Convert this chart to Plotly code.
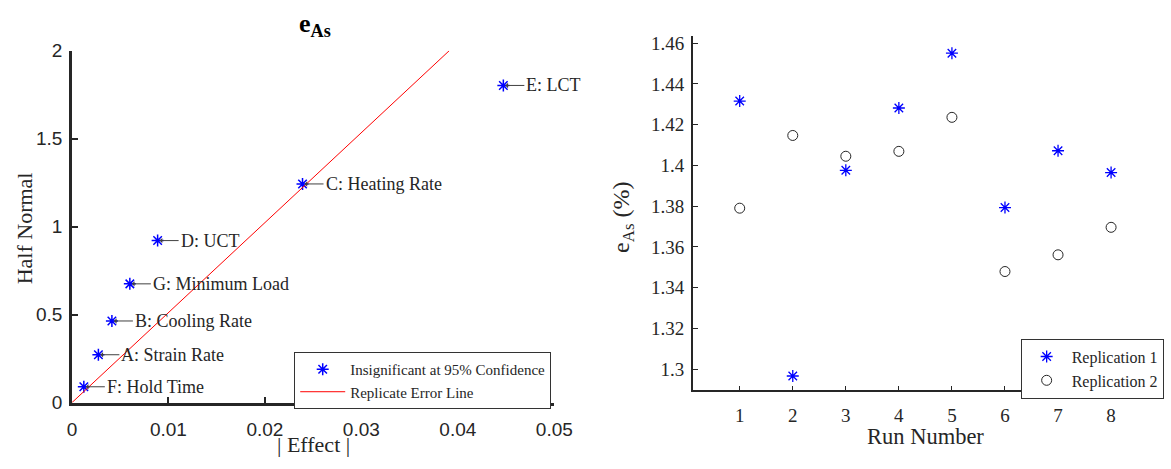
import plotly.graph_objects as go

# Half-normal plot of effects on e_As
factor_labels = ["F: Hold Time", "A: Strain Rate", "B: Cooling Rate", "G: Minimum Load",
                 "D: UCT", "C: Heating Rate", "E: LCT"]
abs_effect = [0.00123, 0.00274, 0.00414, 0.00600, 0.00888, 0.02390, 0.04472]
half_normal = [0.090, 0.272, 0.464, 0.675, 0.921, 1.243, 1.803]

# replicate error line end points
error_line_x = [0.0, 0.0391]
error_line_y = [0.0, 2.0]

# e_As per run for the two replications
run_number = [1, 2, 3, 4, 5, 6, 7, 8]
replication_1 = [1.4316, 1.2966, 1.3976, 1.4282, 1.4551, 1.3793, 1.4072, 1.3965]
replication_2 = [1.3790, 1.4147, 1.4045, 1.4069, 1.4236, 1.3479, 1.3561, 1.3696]

left_xticks = [0, 0.01, 0.02, 0.03, 0.04, 0.05]
left_xticktext = ["0", "0.01", "0.02", "0.03", "0.04", "0.05"]
left_yticks = [0, 0.5, 1, 1.5, 2]
left_yticktext = ["0", "0.5", "1", "1.5", "2"]
right_yticks = [1.30, 1.32, 1.34, 1.36, 1.38, 1.40, 1.42, 1.44, 1.46]
right_yticktext = ["1.3", "1.32", "1.34", "1.36", "1.38", "1.4", "1.42", "1.44", "1.46"]

W, H = 1171, 469
SERIF = "Liberation Serif"
SANS = "Liberation Sans"
AX = "#262626"


def px(x):
    return x / W


def py(y):
    return (H - y) / H


fig = go.Figure()

fig.add_trace(go.Scatter(
    x=abs_effect, y=half_normal, mode="markers",
    name="Insignificant at 95% Confidence",
    marker=dict(symbol="asterisk-open", size=10, color="#0000ff",
                line=dict(color="#0000ff", width=1.5)),
    xaxis="x", yaxis="y", legend="legend",
))
fig.add_trace(go.Scatter(
    x=error_line_x, y=error_line_y, mode="lines",
    name="Replicate Error Line",
    line=dict(color="#ff0000", width=1),
    xaxis="x", yaxis="y", legend="legend",
))

fig.add_trace(go.Scatter(
    x=run_number, y=replication_1, mode="markers", name="Replication 1",
    marker=dict(symbol="asterisk-open", size=10, color="#0000ff",
                line=dict(color="#0000ff", width=1.3)),
    xaxis="x2", yaxis="y2", legend="legend2",
))
fig.add_trace(go.Scatter(
    x=run_number, y=replication_2, mode="markers", name="Replication 2",
    marker=dict(symbol="circle-open", size=10, color="#262626",
                line=dict(color="#262626", width=1)),
    xaxis="x2", yaxis="y2", legend="legend2",
))

annotations = []
for lab, xv, yv in zip(factor_labels, abs_effect, half_normal):
    annotations.append(dict(
        x=xv, y=yv, xref="x", yref="y", text=lab, showarrow=True,
        ax=21, ay=0, xanchor="left", yanchor="middle",
        arrowhead=1, arrowsize=0.9, arrowwidth=1, arrowcolor="#404040",
        standoff=2, font=dict(family=SERIF, size=18, color=AX),
    ))

# titles drawn as paper annotations
annotations += [
    dict(x=px(316), y=py(16), xref="paper", yref="paper", showarrow=False,
         text="<b>e<sub>As</sub></b>", font=dict(family=SERIF, size=26, color="#000"),
         xanchor="center", yanchor="middle"),
    dict(x=px(20), y=py(229), xref="paper", yref="paper", showarrow=False,
         text="Half Normal", textangle=-90,
         font=dict(family=SERIF, size=22, color=AX), xanchor="center", yanchor="middle"),
    dict(x=px(315), y=py(455), xref="paper", yref="paper", showarrow=False,
         text="| Effect |", font=dict(family=SERIF, size=22, color=AX),
         xanchor="center", yanchor="middle"),
    dict(x=px(939), y=py(447), xref="paper", yref="paper", showarrow=False,
         text="Run Number", font=dict(family=SERIF, size=22.5, color=AX),
         xanchor="center", yanchor="middle"),
    dict(x=px(631), y=py(217), xref="paper", yref="paper", showarrow=False,
         text="e<sub>As</sub> (%)", textangle=-90,
         font=dict(family=SERIF, size=24, color=AX), xanchor="center", yanchor="middle"),
]

left_axis = dict(showline=True, linecolor=AX, linewidth=2.5, ticks="inside",
                 ticklen=6, tickwidth=2, tickcolor=AX, showgrid=False, zeroline=False,
                 tickfont=dict(family=SANS, size=19, color=AX))
right_axis = dict(showline=True, linecolor=AX, linewidth=1.6, ticks="inside",
                  ticklen=5, tickwidth=1.3, tickcolor=AX, showgrid=False, zeroline=False,
                  tickfont=dict(family=SERIF, size=19, color=AX))

fig.update_layout(
    width=W, height=H, margin=dict(l=0, r=0, t=0, b=0),
    paper_bgcolor="white", plot_bgcolor="white",
    xaxis=dict(domain=[px(68.3), px(560.3)], range=[0, 0.05], anchor="y",
               tickvals=left_xticks, ticktext=left_xticktext,
               ticklabelstandoff=8, **left_axis),
    yaxis=dict(domain=[py(411), py(42.7)], range=[0, 2], anchor="x",
               tickvals=left_yticks, ticktext=left_yticktext,
               ticklabelstandoff=3, **left_axis),
    xaxis2=dict(domain=[px(701.7), 1.0], range=[0.118, 8.79], anchor="y2",
                tickvals=run_number, ticktext=[str(r) for r in run_number],
                ticklabelstandoff=7, **right_axis),
    yaxis2=dict(domain=[py(398.3), py(27.3)], range=[1.2895, 1.4635], anchor="x2",
                tickvals=right_yticks, ticktext=right_yticktext,
                ticklabelstandoff=3, **right_axis),
    legend=dict(x=px(295), y=py(358), xanchor="left", yanchor="top",
                bgcolor="white", bordercolor="#333", borderwidth=1,
                font=dict(family=SERIF, size=15, color=AX),
                itemwidth=45, tracegroupgap=0),
    legend2=dict(x=px(1036), y=py(344), xanchor="left", yanchor="top",
                 bgcolor="white", bordercolor="#333", borderwidth=1,
                 font=dict(family=SERIF, size=16, color=AX),
                 itemwidth=40, tracegroupgap=0),
    annotations=annotations,
    showlegend=True,
)

fig.write_html("out.html")
